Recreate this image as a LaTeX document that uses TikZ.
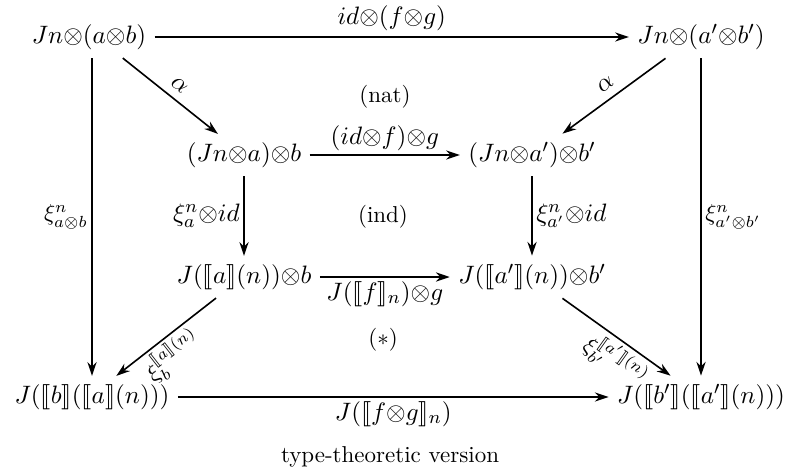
\documentclass[tikz,border=0pt]{standalone}
\usepackage{stmaryrd}
\usetikzlibrary{arrows.meta}
\newcommand{\tens}{{\otimes}}
\begin{document}
\begin{tikzpicture}[x=0.435pt,y=-0.435pt,
  mfont/.style={font=\fontsize{11}{13}\selectfont},
  obj/.style={inner sep=3.5pt, mfont},
  arr/.style={-{Stealth[length=6pt,width=4pt]}, line width=0.7pt},
  lab/.style={inner sep=1.5pt, mfont},
  slab/.style={inner sep=1.5pt},
  region/.style={inner sep=0pt}]
\useasboundingbox (0,0) rectangle (790,475);
% objects
\node[obj] (TL) at (89,37) {$Jn\tens(a\tens b)$};
\node[obj] (TR) at (701,37) {$Jn\tens(a'\tens b')$};
\node[obj] (M1L) at (244,155) {$(Jn\tens a)\tens b$};
\node[obj] (M1R) at (532,155) {$(Jn\tens a')\tens b'$};
\node[obj] (M2L) at (244,277) {$J(\llbracket a\rrbracket(n))\tens b$};
\node[obj] (M2R) at (532,277) {$J(\llbracket a'\rrbracket(n))\tens b'$};
\node[obj] (BL) at (92,397) {$J(\llbracket b\rrbracket(\llbracket a\rrbracket(n)))$};
\node[obj] (BR) at (701,397) {$J(\llbracket b'\rrbracket(\llbracket a'\rrbracket(n)))$};
% region labels
\node[region] (nat) at (385,97) {(nat)};
\node[region] (ind) at (383,217) {(ind)};
\node[region] (star) at (383,340) {$(*)$};
\node[region] (cap) at (390,457) {type-theoretic version};
% arrows
\draw[arr] (TL) -- node[lab, above=1pt] {$id\tens(f\tens g)$} (TR);
\draw[arr] (M1L) -- node[lab, above] {$(id\tens f)\tens g$} (M1R);
\draw[arr] (M2L) -- node[lab, below] {$J(\llbracket f\rrbracket_n)\tens g$} (M2R);
\draw[arr] (BL) -- node[lab, below] {$J(\llbracket f\tens g\rrbracket_n)$} (BR);
\draw[arr] (BL|-TL.south) -- node[slab, left] {$\xi^n_{a\otimes b}$} (BL.north);
\draw[arr] (BR|-TR.south) -- node[slab, right] {$\xi^n_{a'\otimes b'}$} (BR.north);
\draw[arr] (M1L.south) -- node[lab, left] {$\xi^n_a\tens id$} (M2L.north);
\draw[arr] (M1R.south) -- node[lab, right] {$\xi^n_{a'}\tens id$} (M2R.north);
\draw[arr] (TL.-32) -- node[lab, sloped, above=2pt] {$\alpha$} (M1L.141);
\draw[arr] (TR.211) -- node[lab, sloped, above=2pt] {$\alpha$} (M1R.35);
\draw[arr] (M2L.217) -- node[slab, sloped, below, pos=0.55] {$\xi^{\llbracket a\rrbracket(n)}_b$} (BL.41);
\draw[arr] (M2R.-35) -- node[slab, sloped, below, pos=0.6] {$\xi^{\llbracket a'\rrbracket(n)}_{b'}$} (BR.145);
\end{tikzpicture}
\end{document}
